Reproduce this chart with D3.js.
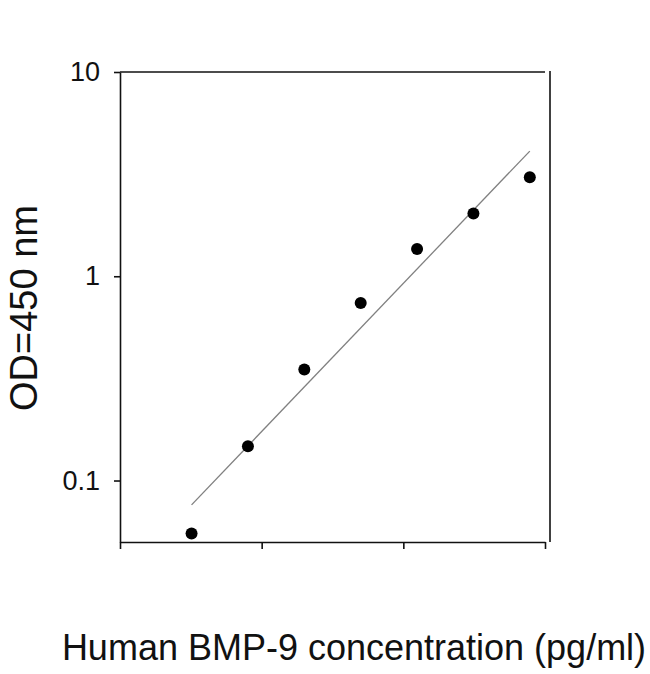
<!DOCTYPE html>
<html>
<head>
<meta charset="utf-8">
<script src="https://cdn.jsdelivr.net/npm/d3@7"></script>
<style>
  body { margin: 0; background: #fff; }
  text { font-family: "Liberation Sans", Arial, sans-serif; fill: #111; }
</style>
</head>
<body>
<svg id="canvas" width="650" height="674"></svg>
<script>
// standard curve, 2.5-fold dilutions (pg/ml) vs OD450
const concentrations = [3.2, 8, 20, 50, 125, 312.5, 781.25];
const odValues = [0.055, 0.147, 0.35, 0.74, 1.36, 2.03, 3.05];

// fitted line end points
const fitX = [3.2, 781.25];
const fitY = [0.076, 4.1];

const xTicks = [1, 10, 100, 1000];
const yTicks = [0.1, 1, 10];

const xTitle = "Human BMP-9 concentration (pg/ml)";
const yTitle = "OD=450 nm";

const canvas = d3.select("#canvas");
const g = canvas.append("g");

const plotLeft = 120, plotRight = 545, plotTop = 72, plotBottom = 542;

const x = d3.scaleLog().domain([1, 1000]).range([plotLeft, plotRight]);
const y = d3.scaleLog().domain([0.05, 10]).range([plotBottom, plotTop]);

// frame lines (top and right)
g.append("line")
  .attr("x1", plotLeft).attr("x2", plotRight)
  .attr("y1", plotTop).attr("y2", plotTop)
  .attr("stroke", "#111").attr("stroke-width", 1.6);
g.append("line")
  .attr("x1", plotRight + 5).attr("x2", plotRight + 5)
  .attr("y1", plotTop - 1).attr("y2", plotBottom)
  .attr("stroke", "#111").attr("stroke-width", 1.6);

// bottom axis, no labels
const xAxis = d3.axisBottom(x).tickValues(xTicks).tickSize(7).tickFormat("").tickSizeOuter(0);
const gx = g.append("g").attr("transform", `translate(0,${plotBottom})`).call(xAxis);
gx.select(".domain").attr("stroke", "#111").attr("stroke-width", 1.6);
gx.selectAll(".tick line").attr("stroke", "#111").attr("stroke-width", 1.6);

// left axis
const yAxis = d3.axisLeft(y).tickValues(yTicks).tickSize(6).tickPadding(14)
  .tickFormat((d) => (d < 1 ? d3.format(".1f")(d) : d3.format("d")(d)))
  .tickSizeOuter(0);
const gy = g.append("g").attr("transform", `translate(${plotLeft},0)`).call(yAxis);
gy.select(".domain").attr("stroke", "#111").attr("stroke-width", 1.6);
gy.selectAll(".tick line").attr("stroke", "#111").attr("stroke-width", 1.6);
gy.selectAll(".tick text")
  .style("font-family", '"Liberation Sans", Arial, sans-serif')
  .style("font-size", "27px")
  .attr("fill", "#111");

// regression line
const line = d3.line().x((d) => x(d[0])).y((d) => y(d[1]));
g.append("path")
  .datum(d3.zip(fitX, fitY))
  .attr("d", line)
  .attr("fill", "none")
  .attr("stroke", "#808080")
  .attr("stroke-width", 1.3);

// data points
g.selectAll("circle")
  .data(d3.zip(concentrations, odValues))
  .enter()
  .append("circle")
  .attr("cx", (d) => x(d[0]))
  .attr("cy", (d) => y(d[1]))
  .attr("r", 6)
  .attr("fill", "#000");

// axis titles
g.append("text")
  .attr("x", 354)
  .attr("y", 660)
  .attr("text-anchor", "middle")
  .style("font-size", "36px")
  .text(xTitle);

g.append("text")
  .attr("transform", "translate(37,308) rotate(-90)")
  .attr("text-anchor", "middle")
  .style("font-size", "38px")
  .text(yTitle);
</script>
</body>
</html>
